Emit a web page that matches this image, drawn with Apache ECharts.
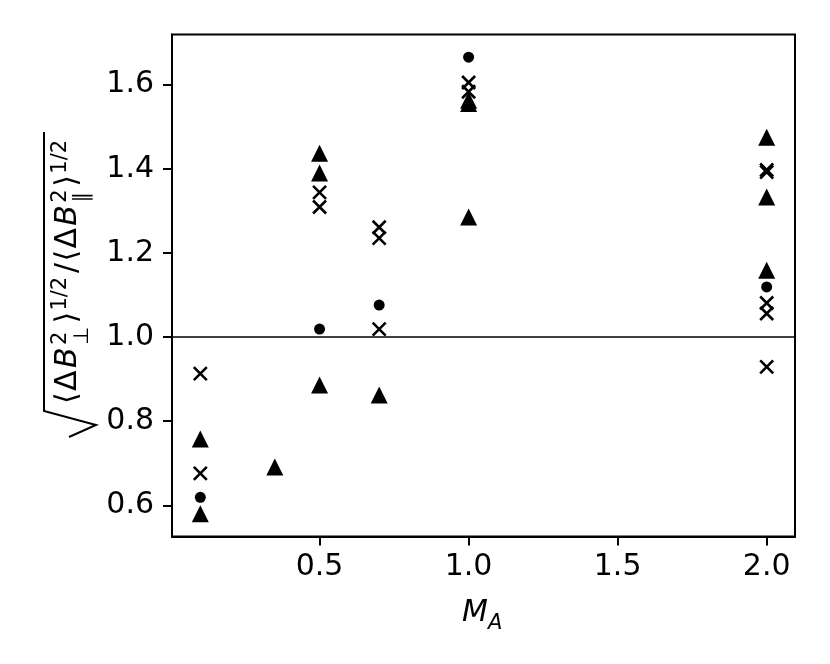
<!DOCTYPE html>
<html>
<head>
<meta charset="utf-8">
<script src="https://cdn.jsdelivr.net/npm/echarts@6/dist/echarts.min.js"></script>
<style>
html, body { margin: 0; padding: 0; background: #fff; }
#main { width: 830px; height: 664px; }
</style>
</head>
<body>
<div id="main"></div>
<script>
// 三角形点
var triX = [0.1, 0.1, 0.35, 0.5, 0.5, 0.5, 0.7, 1.0, 1.0, 1.0, 2.0, 2.0, 2.0];
var triY = [0.758, 0.58, 0.691, 1.437, 1.39, 0.886, 0.862, 1.563, 1.555, 1.285, 1.475, 1.333, 1.159];
// 叉号点
var crossX = [0.1, 0.1, 0.5, 0.5, 0.7, 0.7, 0.7, 1.0, 1.0, 2.0, 2.0, 2.0, 2.0, 2.0];
var crossY = [0.913, 0.676, 1.344, 1.309, 1.261, 1.235, 1.019, 1.605, 1.583, 1.397, 1.392, 1.081, 1.056, 0.929];
// 圆点
var dotX = [0.1, 0.5, 0.7, 1.0, 2.0];
var dotY = [0.619, 1.019, 1.076, 1.665, 1.119];
// 刻度
var xTicks = [0.5, 1.0, 1.5, 2.0];
var yTicks = [0.6, 0.8, 1.0, 1.2, 1.4, 1.6];
var refLine = 1.0;

var FONT = 'DejaVu Sans';

function zip(xs, ys) {
  return xs.map(function (x, i) { return [x, ys[i]]; });
}

// 纵轴标题：手动排版上下标和根号
function buildYLabel() {
  var ctx = document.createElement('canvas').getContext('2d');
  var big = 30, small = 21;
  var parts = [];
  var x = 0;
  function width(t, sz, it) {
    ctx.font = (it ? 'italic ' : '') + sz + 'px "' + FONT + '"';
    return ctx.measureText(t).width;
  }
  function add(t, sz, it, dy) {
    parts.push({ t: t, sz: sz, it: it, dy: dy, x: x });
    x += width(t, sz, it);
  }
  function stack(sup, sub) {
    parts.push({ t: sup, sz: small, it: false, dy: -11, x: x });
    parts.push({ t: sub, sz: small, it: false, dy: 11, x: x });
    x += Math.max(width(sup, small, false), width(sub, small, false)) + 1;
  }
  add('⟨', big, false, 0);
  add('Δ', big, false, 0);
  add('B', big, true, 0);
  stack('2', '⊥');
  add('⟩', big, false, 0);
  add('1/2', small, false, -11);
  add('/', big, false, 0);
  add('⟨', big, false, 0);
  add('Δ', big, false, 0);
  add('B', big, true, 0);
  stack('2', '∥');
  add('⟩', big, false, 0);
  add('1/2', small, false, -11);

  // mathtext 的字距比浏览器宽一些，按参考图总长拉开
  var total = 268;
  var k = total / x;

  var children = parts.map(function (p) {
    return {
      type: 'text',
      x: p.x * k,
      y: p.dy - 0.346 * p.sz,
      style: {
        text: p.t,
        fontSize: p.sz,
        fontFamily: FONT,
        fontStyle: p.it ? 'italic' : 'normal',
        fill: '#000',
        align: 'left',
        verticalAlign: 'middle'
      }
    };
  });
  children.push({
    type: 'polyline',
    shape: { points: [[-33, -10], [-21, 17], [-7, -35], [total + 4, -35]] },
    style: { stroke: '#000', lineWidth: 2, fill: null }
  });
  return { type: 'group', x: 79, y: 404, rotation: Math.PI / 2, silent: true, children: children };
}

function buildXLabel() {
  return {
    type: 'group',
    x: 462,
    y: 624,
    silent: true,
    children: [
      { type: 'text', x: 0, y: -0.346 * 30, style: { text: 'M', fontSize: 30, fontFamily: FONT, fontStyle: 'italic', fill: '#000', align: 'left', verticalAlign: 'middle' } },
      { type: 'text', x: 26, y: 7 - 0.346 * 21, style: { text: 'A', fontSize: 21, fontFamily: FONT, fontStyle: 'italic', fill: '#000', align: 'left', verticalAlign: 'middle' } }
    ]
  };
}

var myChart = echarts.init(document.getElementById('main'));

var axisCommon = {
  type: 'value',
  splitLine: { show: false },
  axisLine: { show: true, lineStyle: { color: '#000', width: 2 } }
};

var option = {
  animation: false,
  backgroundColor: '#fff',
  grid: {
    left: 172, right: 35, top: 34.5, bottom: 127.5,
    show: true, borderColor: '#000', borderWidth: 2, backgroundColor: 'transparent'
  },
  xAxis: Object.assign({}, axisCommon, {
    min: 0.005,
    max: 2.095,
    axisTick: { show: true, customValues: xTicks, length: 9, lineStyle: { color: '#000', width: 2 } },
    axisLabel: {
      customValues: xTicks,
      formatter: function (v) { return v.toFixed(1); },
      fontSize: 30, fontFamily: FONT, color: '#000', margin: 16
    }
  }),
  yAxis: Object.assign({}, axisCommon, {
    min: 0.526,
    max: 1.719,
    axisTick: { show: true, customValues: yTicks, length: 9, lineStyle: { color: '#000', width: 2 } },
    axisLabel: {
      customValues: yTicks,
      formatter: function (v) { return v.toFixed(1); },
      fontSize: 30, fontFamily: FONT, color: '#000', margin: 18
    }
  }),
  graphic: [buildYLabel(), buildXLabel()],
  series: [
    {
      type: 'scatter',
      data: zip(triX, triY),
      symbol: 'triangle',
      symbolSize: 17,
      itemStyle: { color: '#000', opacity: 1 },
      markLine: {
        silent: true,
        symbol: 'none',
        label: { show: false },
        lineStyle: { color: '#000', width: 1.5, type: 'solid' },
        data: [{ yAxis: refLine }]
      }
    },
    {
      type: 'scatter',
      data: zip(crossX, crossY),
      symbol: 'path://M0,0L10,10M10,0L0,10',
      symbolSize: 13,
      itemStyle: { color: '#000', borderColor: '#000', borderWidth: 2.6, opacity: 1 }
    },
    {
      type: 'scatter',
      data: zip(dotX, dotY),
      symbol: 'circle',
      symbolSize: 11,
      itemStyle: { color: '#000', opacity: 1 }
    }
  ]
};

myChart.setOption(option);
</script>
</body>
</html>
